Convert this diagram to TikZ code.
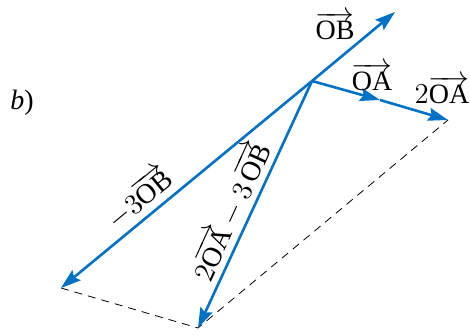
\documentclass[tikz,border=0pt]{standalone}
\usepackage{fontspec}
\setmainfont{Liberation Serif}
\usetikzlibrary{arrows.meta}
\definecolor{vecblue}{RGB}{0,114,198}
\tikzset{
  vec/.style={vecblue, line width=1.3pt, -{Stealth[length=10pt,width=6.5pt,inset=1.5pt]}},
  aux/.style={black, line width=0.4pt, dash pattern=on 4pt off 3pt},
  lbl/.style={font=\fontsize{14}{16}\selectfont, inner sep=1pt}
}

\begin{document}
\begin{tikzpicture}[x=0.5pt,y=-0.5pt]
\useasboundingbox (0,0) rectangle (470,335);
\coordinate (O)  at (312,81);
\coordinate (B)  at (395,12);
\coordinate (A)  at (380,100);
\coordinate (A2) at (448,120);
\coordinate (M)  at (61,288);
\coordinate (S)  at (198,328);
\draw [aux] (M) -- (S) -- (A2);
\draw [vec] (O) -- (B);
\draw [vec] (O) -- (A);
\draw [vec] (A) -- (A2);
\draw [vec] (O) -- (M);
\draw [vec] (O) -- (S);
\node [lbl] (lb)   at (22,103)  {\textit{b})};
\node [lbl] (lOB)  at (335,26)  {$\overrightarrow{\mathrm{OB}}$};
\node [lbl] (lOA)  at (372,77)  {$\overrightarrow{\mathrm{OA}}$};
\node [lbl] (l2OA) at (442,90)  {$2\overrightarrow{\mathrm{OA}}$};
\node [lbl,rotate=39.5] (lM) at (138,197) {$-3\overrightarrow{\mathrm{OB}}$};
\node [lbl,rotate=65.3] (lS) at (230,211) {$2\overrightarrow{\mathrm{OA}}-3\,\overrightarrow{\mathrm{OB}}$};
\end{tikzpicture}
\end{document}
